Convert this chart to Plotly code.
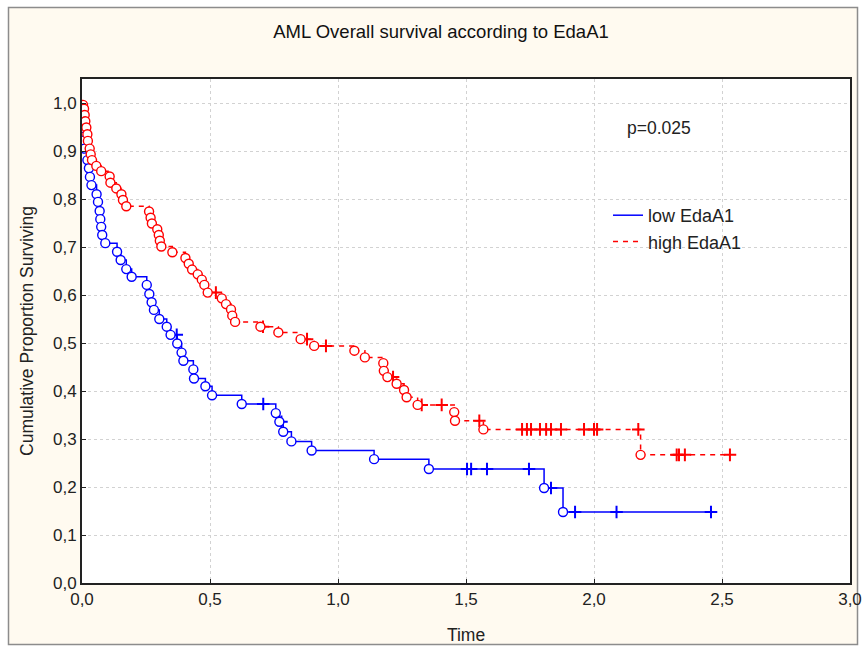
import numpy as np
import plotly.graph_objects as go

# low EdaA1: event times and survival after each event
low_event_t = [0.002, 0.003, 0.005, 0.007, 0.010, 0.021, 0.027, 0.031, 0.037, 0.057,
               0.0625, 0.069, 0.0715, 0.075, 0.079, 0.091, 0.137, 0.151, 0.173, 0.194,
               0.253, 0.263, 0.272, 0.281, 0.302, 0.331, 0.346, 0.372, 0.389, 0.396,
               0.435, 0.4375, 0.482, 0.508, 0.624, 0.757, 0.771, 0.786, 0.818, 0.897,
               1.141, 1.355, 1.805, 1.879]
low_event_s = [0.983, 0.966, 0.948, 0.922, 0.905, 0.881, 0.864, 0.846, 0.829, 0.810,
               0.794, 0.775, 0.758, 0.742, 0.725, 0.708, 0.690, 0.673, 0.654, 0.638,
               0.621, 0.602, 0.585, 0.569, 0.550, 0.534, 0.517, 0.499, 0.480, 0.463,
               0.445, 0.426, 0.410, 0.391, 0.373, 0.354, 0.336, 0.315, 0.295, 0.276,
               0.258, 0.2375, 0.198, 0.148]
low_censor_t = [0.370, 0.708, 0.779, 1.504, 1.520, 1.582, 1.746, 1.832, 1.926, 2.088, 2.457]

# high EdaA1
high_event_t = [0.004, 0.008, 0.0105, 0.013, 0.017, 0.021, 0.023, 0.030, 0.034, 0.039,
                0.056, 0.075, 0.108, 0.111, 0.134, 0.154, 0.160, 0.173, 0.262, 0.268,
                0.273, 0.294, 0.300, 0.304, 0.310, 0.353, 0.404, 0.417, 0.430, 0.452,
                0.468, 0.478, 0.491, 0.546, 0.5625, 0.582, 0.587, 0.598, 0.697, 0.767,
                0.854, 0.907, 1.064, 1.105, 1.177, 1.179, 1.193, 1.229, 1.258, 1.268,
                1.311, 1.454, 1.457, 1.568, 2.182]
high_event_s = [0.996, 0.988, 0.975, 0.962, 0.949, 0.935, 0.921, 0.905, 0.893, 0.881,
                0.869, 0.858, 0.847, 0.834, 0.822, 0.810, 0.798, 0.785, 0.774, 0.761,
                0.749, 0.737, 0.725, 0.713, 0.701, 0.689, 0.677, 0.665, 0.653, 0.643,
                0.632, 0.621, 0.605, 0.593, 0.581, 0.570, 0.557, 0.544, 0.534, 0.522,
                0.508, 0.494, 0.484, 0.470, 0.458, 0.442, 0.429, 0.415, 0.402, 0.387,
                0.371, 0.356, 0.338, 0.320, 0.267]
high_censor_t = [0.523, 0.707, 0.879, 0.953, 1.215, 1.327, 1.405, 1.552, 1.719, 1.738,
                 1.754, 1.789, 1.813, 1.832, 1.871, 1.961, 2.000, 2.012, 2.173, 2.323,
                 2.332, 2.355, 2.531]

x_ticks = [0, 0.5, 1.0, 1.5, 2.0, 2.5, 3.0]
y_ticks = [0, 0.1, 0.2, 0.3, 0.4, 0.5, 0.6, 0.7, 0.8, 0.9, 1.0]

FONT = "Liberation Sans, Arial, sans-serif"

W, H = 866, 652
L, R, T, B = 82, 16, 79, 69
PW, PH = W - L - R, H - T - B


def px(x):  # pixel -> paper x
    return (x - L) / PW


def py(y):  # pixel -> paper y
    return (H - B - y) / PH


def step_line(ev_t, ev_s, cens_t):
    end = max(max(ev_t), max(cens_t))
    x = [0] + list(ev_t) + [end]
    y = [1.0] + list(ev_s) + [ev_s[-1]]
    return x, y


def censor_y(ev_t, ev_s, cens_t):
    idx = np.searchsorted(np.array(ev_t), np.array(cens_t), side="right")
    surv = np.concatenate([[1.0], ev_s])
    return surv[idx]


def comma(v):
    return f"{v:.1f}".replace(".", ",")


fig = go.Figure()

groups = [
    ("low EdaA1", low_event_t, low_event_s, low_censor_t, "#0000ff", "solid"),
    ("high EdaA1", high_event_t, high_event_s, high_censor_t, "#ff0000", "5px,5px"),
]

for name, et, es, ct, color, dash in groups:
    lx, ly = step_line(et, es, ct)
    fig.add_trace(go.Scatter(
        x=lx, y=ly, mode="lines", name=name, line_shape="hv",
        line=dict(color=color, width=1.5, dash=dash),
    ))
    fig.add_trace(go.Scatter(
        x=ct, y=censor_y(et, es, ct), mode="markers", showlegend=False,
        marker=dict(symbol="cross-thin-open", size=9, color=color,
                    line=dict(color=color, width=2)),
    ))
    fig.add_trace(go.Scatter(
        x=et, y=es, mode="markers", showlegend=False,
        marker=dict(symbol="circle", size=9, color="white",
                    line=dict(color=color, width=1.4)),
    ))

fig.add_annotation(x=px(659), y=py(128), xref="paper", yref="paper",
                   xanchor="center", yanchor="middle",
                   text="p=0.025", showarrow=False, font=dict(size=17.5, color="#222"))

# cream card with a grey border, and the white plotting area on top of it
fig.add_shape(type="rect", xref="paper", yref="paper",
              x0=px(8.5), x1=px(857.5), y0=py(644.5), y1=py(7.5),
              line=dict(color="#8c8c8c", width=1.5), fillcolor="#fffaf0", layer="below")
fig.add_shape(type="rect", xref="paper", yref="paper", x0=0, x1=1, y0=0, y1=1,
              line=dict(width=0), fillcolor="white", layer="below")

fig.update_layout(
    width=W, height=H,
    margin=dict(l=L, r=R, t=T, b=B),
    paper_bgcolor="white",
    plot_bgcolor="white",
    font=dict(family=FONT, size=17, color="#222"),
    title=dict(text="AML Overall survival according to EdaA1", x=441 / W, xanchor="center",
               y=1 - 32 / H, yanchor="middle", font=dict(size=18.5, color="#111")),
    legend=dict(x=px(608), y=py(197), xanchor="left", yanchor="top",
                bgcolor="rgba(0,0,0,0)", font=dict(size=18, color="#222"),
                itemwidth=30, tracegroupgap=0),
    showlegend=True,
)

fig.update_xaxes(
    range=[0, 3], tickvals=x_ticks, ticktext=[comma(v) for v in x_ticks],
    showgrid=True, gridcolor="#d2d2d2", griddash="dot", gridwidth=1,
    showline=True, linecolor="#222", linewidth=2, mirror=True,
    ticks="inside", ticklen=4, tickcolor="#222", zeroline=False, automargin=False,
    title=dict(text="Time", font=dict(size=17.5), standoff=20),
)
fig.update_yaxes(
    range=[0, 1.05], tickvals=y_ticks, ticktext=[comma(v) for v in y_ticks],
    showgrid=True, gridcolor="#d2d2d2", griddash="dot", gridwidth=1,
    showline=True, linecolor="#222", linewidth=2, mirror=True,
    ticks="inside", ticklen=4, tickcolor="#222", zeroline=False, automargin=False,
    title=dict(text="Cumulative Proportion Surviving", font=dict(size=17.5), standoff=15),
)

# drop the default page margin so the 866x652 figure fills the window exactly
fig.write_html(
    "out.html",
    config={"displayModeBar": False},
    post_script="document.body.style.margin='0';"
                "document.documentElement.style.overflow='hidden';",
)
